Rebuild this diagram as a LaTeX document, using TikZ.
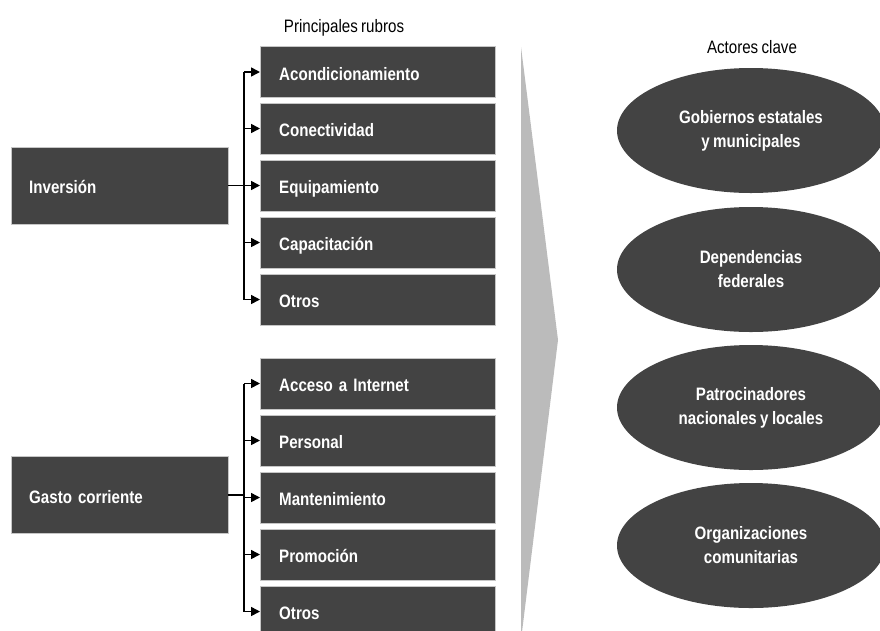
\documentclass[tikz,border=0pt]{standalone}
\usepackage{fontspec}
\setmainfont{Liberation Sans}[FakeStretch=0.84, WordSpace=0.8]
\usetikzlibrary{shapes.geometric}
\usetikzlibrary{arrows.meta}
\newcommand*{\lbx }{11}
\newcommand*{\rbx }{260}
\newcommand*{\busx}{244}
\newcommand*{\elx }{751}
\definecolor{boxgray}{HTML}{434343}
\definecolor{wedgegray}{HTML}{BBBBBB}

\begin{document}
\begin{tikzpicture}[x=1pt, y=-1pt, font=\fontsize{18}{24}\selectfont,
    rubro/.style  = {fill=boxgray, draw=gray!45, text=white, font=\fontsize{18}{24}\selectfont\bfseries,
                     anchor=west, minimum height=51pt, text width=197pt, inner xsep=19pt, align=left,
                     text height=16pt, text depth=0pt},
    rubroL/.style = {rubro, minimum height=77pt, text width=181pt, inner xsep=18pt},
    actor/.style  = {ellipse, fill=boxgray, text=white, font=\fontsize{18}{24}\selectfont\bfseries,
                     minimum width=268pt, minimum height=125pt, inner sep=0pt, align=center},
    link/.style   = {line width=1.6pt},
    arr/.style    = {link, -{Triangle[length=9pt, width=9pt]}}]
    \useasboundingbox (0,0) rectangle (880,630);
    \fill [wedgegray] (521,47) -- (558,340) -- (521,640) -- cycle;

    \node [anchor=base] (rubros)  at (344,32) {Principales rubros};
    \node [anchor=base] (actores) at (\elx+1,53) {Actores clave};

    % inversion
    \node [rubroL] (inv) at (\lbx,185.5) {Inversión};
    \node [rubro] (r1) at (\rbx, 72.0) {Acondicionamiento};
    \node [rubro] (r2) at (\rbx,128.5) {Conectividad};
    \node [rubro] (r3) at (\rbx,185.5) {Equipamiento};
    \node [rubro] (r4) at (\rbx,242.5) {Capacitación};
    \node [rubro] (r5) at (\rbx,299.5) {Otros};
    \coordinate (busI) at (\busx,185.5);
    \draw [link] (inv.east) -- (busI);
    \draw [link] (r1.west -| busI) -- (r5.west -| busI);
    \draw [arr] (r1.west -| busI) -- (r1.west);
    \draw [arr] (r2.west -| busI) -- (r2.west);
    \draw [arr] (r3.west -| busI) -- (r3.west);
    \draw [arr] (r4.west -| busI) -- (r4.west);
    \draw [arr] (r5.west -| busI) -- (r5.west);

    % gasto corriente
    \node [rubroL] (gasto) at (\lbx,495) {Gasto corriente};
    \node [rubro] (g1) at (\rbx,383.5) {Acceso a Internet};
    \node [rubro] (g2) at (\rbx,440.5) {Personal};
    \node [rubro] (g3) at (\rbx,497.5) {Mantenimiento};
    \node [rubro] (g4) at (\rbx,554.5) {Promoción};
    \node [rubro] (g5) at (\rbx,611.5) {Otros};
    \coordinate (busG) at (\busx,495);
    \draw [link] (gasto.east) -- (busG);
    \draw [link] (g1.west -| busG) -- (g5.west -| busG);
    \draw [arr] (g1.west -| busG) -- (g1.west);
    \draw [arr] (g2.west -| busG) -- (g2.west);
    \draw [arr] (g3.west -| busG) -- (g3.west);
    \draw [arr] (g4.west -| busG) -- (g4.west);
    \draw [arr] (g5.west -| busG) -- (g5.west);

    % actores
    \node [actor] (a1) at (\elx,130.5) {Gobiernos estatales\\y municipales};
    \node [actor] (a2) at (\elx,269.5) {Dependencias\\federales};
    \node [actor] (a3) at (\elx,407.5) {Patrocinadores\\nacionales y locales};
    \node [actor] (a4) at (\elx,545.5) {Organizaciones\\comunitarias};
\end{tikzpicture}
\end{document}
